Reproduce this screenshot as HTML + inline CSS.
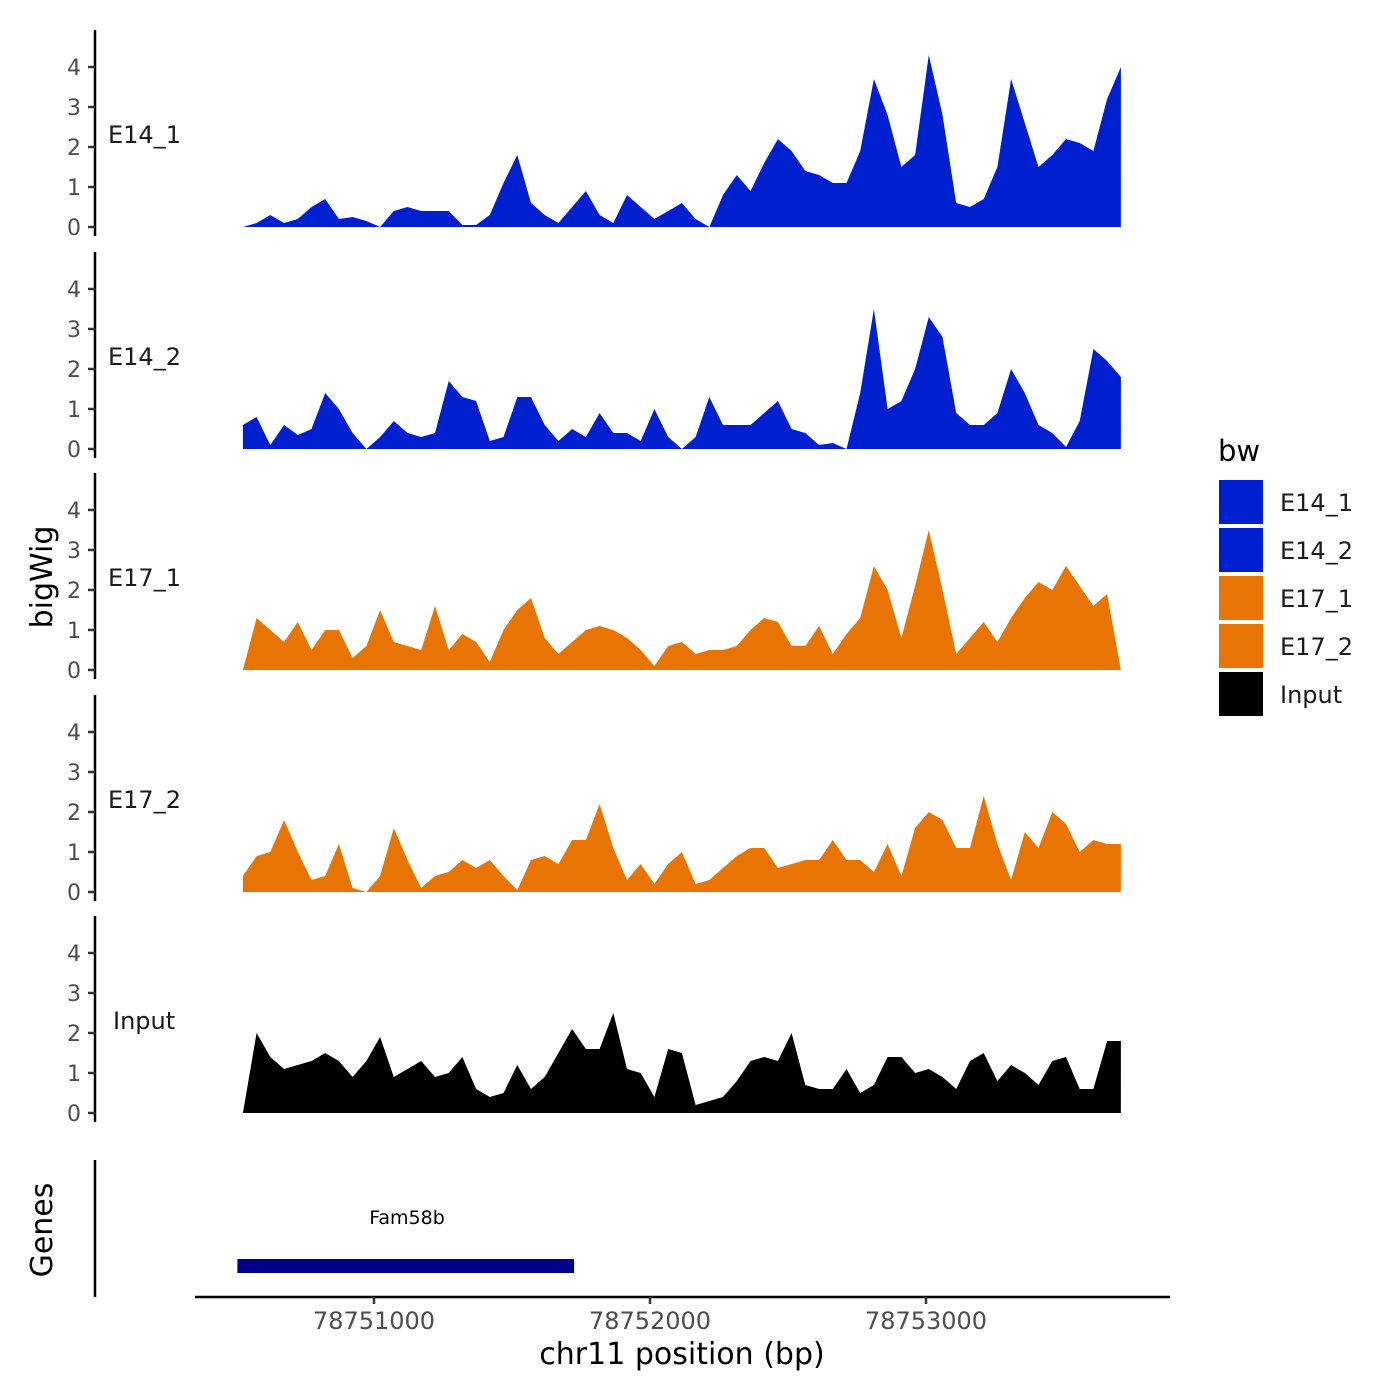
<!DOCTYPE html>
<html><head><meta charset="utf-8"><style>
body{margin:0;background:#fff;}
svg{display:block;font-family:"DejaVu Sans","Liberation Sans",sans-serif;}
</style></head><body>
<svg id="chart" width="1400" height="1400" viewBox="0 0 1400 1400" xmlns="http://www.w3.org/2000/svg">
<g id="panels"></g>
<g id="genes">
<line x1="95" y1="1160" x2="95" y2="1297" stroke="#000" stroke-width="2.5"/>
<text x="407" y="1224" font-size="19" text-anchor="middle" fill="#000">Fam58b</text>
<rect id="geneRect" y="1259" height="14" fill="#00008B"/>
<text transform="translate(52,1230) rotate(-90)" font-size="30" text-anchor="middle">Genes</text>
</g>
<g id="xaxis">
<line x1="195" y1="1297" x2="1170" y2="1297" stroke="#000" stroke-width="2.5"/>
</g>
<text x="682" y="1364" font-size="30" text-anchor="middle">chr11 position (bp)</text>
<text transform="translate(52,577) rotate(-90)" font-size="30" text-anchor="middle">bigWig</text>
<g id="legend">
<text x="1218" y="461" font-size="29">bw</text>
</g>
</svg>
<script>
const startBp = 78750525;
const endBp = 78753706;
const sampleNames = ["E14_1","E14_2","E17_1","E17_2","Input"];
const sampleColors = ["#0020D0","#0020D0","#E87503","#E87503","#000000"];
const e14_1 = [0,0.1,0.3,0.1,0.2,0.5,0.7,0.2,0.25,0.15,0,0.4,0.5,0.4,0.4,0.4,0.05,0.05,0.3,1.1,1.8,0.6,0.3,0.1,0.5,0.9,0.3,0.1,0.8,0.5,0.2,0.4,0.6,0.2,0,0.8,1.3,0.9,1.6,2.2,1.9,1.4,1.3,1.1,1.1,1.9,3.7,2.8,1.5,1.8,4.3,2.8,0.6,0.5,0.7,1.5,3.7,2.6,1.5,1.8,2.2,2.1,1.9,3.2,4.0];
const e14_2 = [0.6,0.8,0.1,0.6,0.35,0.5,1.4,1.0,0.4,0,0.3,0.7,0.4,0.3,0.4,1.7,1.3,1.2,0.2,0.3,1.3,1.3,0.6,0.2,0.5,0.3,0.9,0.4,0.4,0.2,1.0,0.3,0,0.3,1.3,0.6,0.6,0.6,0.9,1.2,0.5,0.4,0.1,0.15,0,1.4,3.5,1.0,1.2,2.0,3.3,2.8,0.9,0.6,0.6,0.9,2.0,1.4,0.6,0.4,0.05,0.7,2.5,2.2,1.8];
const e17_1 = [0,1.3,1.0,0.7,1.2,0.5,1.0,1.0,0.3,0.6,1.5,0.7,0.6,0.5,1.6,0.5,0.9,0.7,0.2,1.0,1.5,1.8,0.8,0.4,0.7,1.0,1.1,1.0,0.8,0.5,0.1,0.6,0.7,0.4,0.5,0.5,0.6,1.0,1.3,1.2,0.6,0.6,1.1,0.4,0.9,1.3,2.6,2.0,0.8,2.1,3.5,2.0,0.4,0.8,1.2,0.7,1.3,1.8,2.2,2.0,2.6,2.1,1.6,1.9,0];
const e17_2 = [0.4,0.9,1.0,1.8,1.0,0.3,0.4,1.2,0.1,0,0.4,1.6,0.8,0.1,0.4,0.5,0.8,0.6,0.8,0.4,0.05,0.8,0.9,0.7,1.3,1.3,2.2,1.1,0.3,0.7,0.2,0.7,1.0,0.2,0.3,0.6,0.9,1.1,1.1,0.6,0.7,0.8,0.8,1.3,0.8,0.8,0.5,1.2,0.4,1.6,2.0,1.8,1.1,1.1,2.4,1.2,0.3,1.5,1.1,2.0,1.7,1.0,1.3,1.2,1.2];
const input = [0,2.0,1.4,1.1,1.2,1.3,1.5,1.3,0.9,1.3,1.9,0.9,1.1,1.3,0.9,1.0,1.4,0.6,0.4,0.5,1.2,0.6,0.9,1.5,2.1,1.6,1.6,2.5,1.1,1.0,0.4,1.6,1.5,0.2,0.3,0.4,0.8,1.3,1.4,1.3,2.0,0.7,0.6,0.6,1.1,0.5,0.7,1.4,1.4,1.0,1.1,0.9,0.6,1.3,1.5,0.8,1.2,1.0,0.7,1.3,1.4,0.6,0.6,1.8,1.8];
const yTicks = [0,1,2,3,4];
const xTicks = [78751000,78752000,78753000];
const geneStart = 78750505;
const geneEnd = 78751725;
const seriesList = [e14_1,e14_2,e17_1,e17_2,input];

const NS="http://www.w3.org/2000/svg";
function mk(t,a,p){const e=document.createElementNS(NS,t);for(const k in a)e.setAttribute(k,a[k]);p.appendChild(e);return e;}
function xScale(bp){return 374+(bp-78751000)*0.276;}
const zeros=[227,449,670,892,1113];
const unit=40;
const panels=document.getElementById('panels');
seriesList.forEach((vals,s)=>{
  const z=zeros[s];
  const g=mk('g',{},panels);
  
  
  const ax=mk('line',{x1:95,y1:z-197,x2:95,y2:z+9,stroke:'#000','stroke-width':2.5},g);
  
  
  yTicks.forEach(t=>{
    const y=z-t*unit;
    const tk=mk('line',{x1:88,y1:y,x2:95,y2:y,stroke:'#333','stroke-width':2.5},g);
    
    
    const tl=mk('text',{x:81,y:y+8,'font-size':22,'text-anchor':'end',fill:'#4d4d4d'},g);
    tl.textContent=t;
    
    
  });
  const n=vals.length;
  let pts=[];
  vals.forEach((v,i)=>{const bp=startBp+i*(endBp-startBp)/(n-1);pts.push(xScale(bp).toFixed(1)+','+(z-v*unit).toFixed(1));});
  const x0=xScale(startBp),x1=xScale(endBp);
  const area=mk('polygon',{points:x0+','+z+' '+pts.join(' ')+' '+x1+','+z,fill:sampleColors[s]},g);
  
  
  const lb=mk('text',{x:sampleNames[s]==='Input'?113:108,y:z-84,'font-size':24,fill:'#1a1a1a'},g);
  lb.textContent=sampleNames[s];
  
  
});
const gr=document.getElementById('geneRect');
gr.setAttribute('x',xScale(geneStart));
gr.setAttribute('width',xScale(geneEnd)-xScale(geneStart));
const xa=document.getElementById('xaxis');
xTicks.forEach(t=>{
  const x=xScale(t);
  const tk=mk('line',{x1:x,y1:1297,x2:x,y2:1304,stroke:'#333','stroke-width':2.5},xa);
  
  
  const tl=mk('text',{x:x,y:1329,'font-size':24,'text-anchor':'middle',fill:'#4d4d4d'},xa);
  tl.textContent=t;
  
  
});
const lg=document.getElementById('legend');
sampleNames.forEach((nm,i)=>{
  const y=480+i*48;
  const r=mk('rect',{x:1219,y:y,width:44,height:44,fill:sampleColors[i]},lg);
  
  
  const t=mk('text',{x:1280,y:y+31,'font-size':24,fill:'#1a1a1a'},lg);
  t.textContent=nm;
  
  
});
</script>
</body></html>
